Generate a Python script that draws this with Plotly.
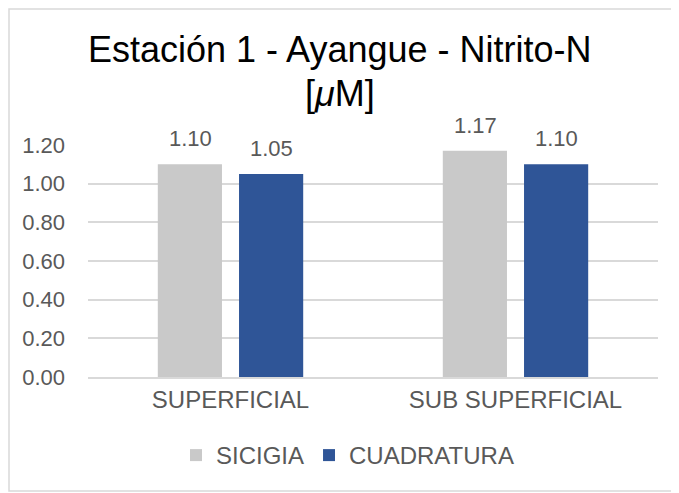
import plotly.graph_objects as go

categories = ["SUPERFICIAL", "SUB SUPERFICIAL"]
sicigia = [1.10, 1.17]
cuadratura = [1.05, 1.10]
series_names = ["SICIGIA", "CUADRATURA"]
title_line1 = "Estación 1 - Ayangue - Nitrito-N"
title_line2 = "[<i>μ</i>M]"
y_ticks = [0.0, 0.2, 0.4, 0.6, 0.8, 1.0, 1.2]

W, H = 679, 493
OFF = 8  # page body margin offset
L, T = 88 - OFF, 145 - OFF
PW, PH = 570, 232
R = W - L - PW
B = H - T - PH
FONT = "Liberation Sans, Arial, sans-serif"
TXT = "#595959"
BAR_SHIFT = 40.5


def px_x(sx):
    return (sx - OFF - L) / PW


def px_y(sy):
    return (T + PH - (sy - OFF)) / PH


fig = go.Figure()
fig.add_trace(go.Bar(x=categories, y=sicigia, name=series_names[0],
                     marker=dict(color="#C9C9C9", line=dict(width=0))))
fig.add_trace(go.Bar(x=categories, y=cuadratura, name=series_names[1],
                     marker=dict(color="#2F5597", line=dict(width=0))))

for vals, sh in ((sicigia, -BAR_SHIFT), (cuadratura, BAR_SHIFT)):
    for c, v in zip(categories, vals):
        fig.add_annotation(x=c, y=v, text=f"{v:.2f}", xref="x", yref="y",
                           xanchor="center", yanchor="bottom", xshift=sh, yshift=11,
                           showarrow=False, font=dict(size=22, color=TXT, family=FONT))

fig.add_shape(type="rect", xref="paper", yref="paper",
              x0=px_x(OFF + 1), x1=px_x(673),
              y0=px_y(491), y1=px_y(OFF + 1),
              line=dict(color="#D9D9D9", width=1.5), layer="below")

fig.add_annotation(text=title_line1, xref="paper", yref="paper",
                   x=px_x(340), y=px_y(49), xanchor="center", yanchor="middle",
                   showarrow=False, font=dict(size=36, color="#000000", family=FONT))
fig.add_annotation(text=title_line2, xref="paper", yref="paper",
                   x=px_x(340), y=px_y(93), xanchor="center", yanchor="middle",
                   showarrow=False, font=dict(size=36, color="#000000", family=FONT))

fig.update_layout(
    width=W, height=H,
    margin=dict(l=L, r=R, t=T, b=B, autoexpand=False),
    paper_bgcolor="white", plot_bgcolor="white",
    font=dict(family=FONT, color=TXT),
    barmode="group", bargap=0.43, bargroupgap=0.21,
    xaxis=dict(showgrid=False, showline=True, linecolor="#D9D9D9", linewidth=1.5,
               ticks="", tickfont=dict(size=24, color=TXT), ticklabelstandoff=0),
    yaxis=dict(range=[0, 1.2], tickvals=y_ticks, tickformat=".2f",
               showgrid=True, gridcolor="#D9D9D9", gridwidth=1.5,
               zeroline=False, showline=False, ticks="",
               tickfont=dict(size=22, color=TXT), ticklabelstandoff=22),
    legend=dict(orientation="h", x=0.5, xref="container", xanchor="center",
                y=1 - 425 / H, yref="container", yanchor="top",
                font=dict(size=24, color=TXT), itemwidth=30, traceorder="normal"),
    showlegend=True,
)

fig.write_html("out.html")
